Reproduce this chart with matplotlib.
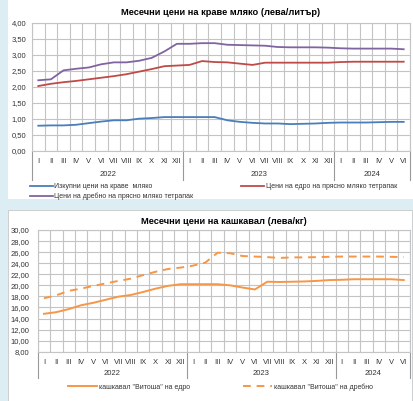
import numpy as np
import matplotlib
matplotlib.use("Agg")
import matplotlib.pyplot as plt
from matplotlib.patches import Rectangle
from matplotlib.transforms import blended_transform_factory

plt.rcParams['font.family'] = ['Liberation Sans', 'DejaVu Sans']

# month labels for Jan 2022 .. Jun 2024
months = ["I", "II", "III", "IV", "V", "VI", "VII", "VIII", "IX", "X", "XI", "XII"]
month_labels = months + months + months[:6]
years = ["2022", "2023", "2024"]
year_len = [12, 12, 6]

# milk prices (лева/литър)
milk_purchase = [0.79, 0.80, 0.80, 0.82, 0.87, 0.92, 0.96, 0.96, 1.01, 1.03, 1.06, 1.06,
                 1.06, 1.06, 1.06, 0.96, 0.91, 0.88, 0.86, 0.86, 0.84, 0.85, 0.86, 0.88,
                 0.89, 0.89, 0.89, 0.90, 0.91, 0.91]
milk_wholesale = [2.03, 2.10, 2.15, 2.19, 2.24, 2.29, 2.34, 2.40, 2.48, 2.56, 2.65, 2.67,
                  2.69, 2.81, 2.78, 2.77, 2.73, 2.69, 2.76, 2.76, 2.76, 2.76, 2.76, 2.76,
                  2.78, 2.79, 2.79, 2.79, 2.79, 2.79]
milk_retail = [2.21, 2.24, 2.52, 2.57, 2.61, 2.71, 2.77, 2.77, 2.82, 2.91, 3.11, 3.35,
               3.35, 3.37, 3.37, 3.32, 3.31, 3.30, 3.29, 3.25, 3.24, 3.24, 3.24, 3.23,
               3.21, 3.20, 3.20, 3.20, 3.20, 3.18]

# kashkaval prices (лева/кг)
cheese_wholesale = [14.85, 15.15, 15.7, 16.4, 16.85, 17.4, 17.95, 18.25, 18.8, 19.4, 19.9, 20.2,
                    20.2, 20.2, 20.2, 20.0, 19.6, 19.25, 20.65, 20.6, 20.65, 20.7, 20.8, 20.95,
                    21.0, 21.1, 21.1, 21.1, 21.1, 20.95]
cheese_retail = [17.65, 18.2, 19.0, 19.4, 19.9, 20.35, 20.8, 21.2, 21.85, 22.45, 22.95, 23.2,
                 23.55, 24.1, 25.9, 25.8, 25.3, 25.2, 25.1, 24.95, 25.05, 25.05, 25.1, 25.15,
                 25.2, 25.2, 25.2, 25.2, 25.15, 25.1]

W, H = 414, 401
fig = plt.figure(figsize=(W / 100, H / 100), dpi=100)
fig.patch.set_facecolor("#dcedf3")

# white panels behind the charts
fig.patches.append(Rectangle((8 / W, 1 - 199 / H), 1, 199 / H, transform=fig.transFigure,
                             facecolor="white", edgecolor="none", zorder=-5))
fig.patches.append(Rectangle((8 / W, 0), 404 / W, 1 - 210 / H, transform=fig.transFigure,
                             facecolor="white", edgecolor="#c8c8c8", lw=0.6, zorder=-5))

grid_c = "#c4c4c4"
x = np.arange(len(month_labels))


def setup(ax, ylim, ystep, sep_depth, year_off, ypad):
    ax.set_zorder(2)
    ax.set_xlim(-0.5, len(month_labels) - 0.5)
    ax.set_ylim(*ylim)
    ax.set_yticks(np.arange(ylim[0], ylim[1] + 0.001, ystep))
    ax.set_yticklabels([f"{v:.2f}".replace(".", ",") for v in ax.get_yticks()])
    ax.set_xticks(x)
    ax.set_xticklabels(month_labels)
    ax.set_xticks(np.arange(-0.5, len(month_labels) + 0.5, 1), minor=True)
    ax.grid(True, which="minor", axis="x", color=grid_c, lw=0.8)
    ax.grid(True, which="major", axis="y", color=grid_c, lw=0.8)
    ax.tick_params(axis="both", which="both", length=0, labelsize=5.5, colors="#333333")
    ax.tick_params(axis="x", pad=5)
    ax.tick_params(axis="y", pad=ypad)
    for s in ax.spines.values():
        s.set_color(grid_c)
        s.set_linewidth(0.8)
    ax.set_axisbelow(True)
    tr = blended_transform_factory(ax.transData, ax.transAxes)
    bounds = np.concatenate([[0], np.cumsum(year_len)]) - 0.5
    for b in bounds:
        ax.plot([b, b], [0, -sep_depth], transform=tr, color="#999999", lw=0.8, clip_on=False)
    for i, yr in enumerate(years):
        c = (bounds[i] + bounds[i + 1]) / 2
        ax.annotate(yr, xy=(c, 0), xycoords=tr, xytext=(0, year_off), textcoords="offset points",
                    ha="center", va="center", fontsize=5.5, color="#333333")


# top chart
ax1 = fig.add_axes([32 / W, 1 - 151 / H, 378 / W, 128 / H])
l1, = ax1.plot(x, milk_purchase, color="#4a7ebb", lw=1.3, label="Изкупни цени на краве  мляко")
l2, = ax1.plot(x, milk_wholesale, color="#be4b48", lw=1.3, label="Цени на едро на прясно мляко тетрапак")
l3, = ax1.plot(x, milk_retail, color="#8064a2", lw=1.3, label="Цени на дребно на прясно мляко тетрапак")
setup(ax1, (0, 4), 0.5, 0.227, -17, 4)
ax1.set_title("Месечни цени на краве мляко (лева/литър)", fontsize=6.7, fontweight="bold", pad=6)
fig.legend(handles=[l1, l3, l2], loc="upper left", bbox_to_anchor=(30 / W, 1 - 183 / H), ncol=2,
           frameon=False, fontsize=5, handlelength=3.3, handletextpad=0.2, columnspacing=6.9,
           labelspacing=0.4, borderpad=0, borderaxespad=0, labelcolor="#333333")

# bottom chart
ax2 = fig.add_axes([37.7 / W, 1 - 351.7 / H, 372.3 / W, 121.7 / H])
m1, = ax2.plot(x, cheese_wholesale, color="#f79646", lw=1.4, label='кашкавал "Витоша" на едро')
m2, = ax2.plot(x, cheese_retail, color="#f79646", lw=1.4, ls=(0, (4, 3)),
               label='кашкавал "Витоша" на дребно')
setup(ax2, (8, 30), 2, 0.215, -16, 6)
ax2.set_title("Месечни цени на кашкавал (лева/кг)", fontsize=6.7, fontweight="bold", pad=4)
fig.legend(handles=[m1, m2], loc="center left", bbox_to_anchor=(68 / W, 1 - 387 / H), ncol=2,
           frameon=False, fontsize=5, handlelength=4.2, handletextpad=0.3, columnspacing=7.6,
           borderpad=0, borderaxespad=0, labelcolor="#333333")

fig.savefig("out.png", dpi=100, facecolor=fig.get_facecolor())
